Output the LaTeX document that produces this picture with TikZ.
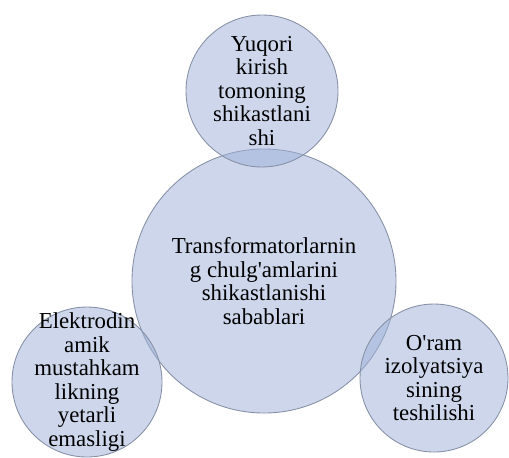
\documentclass[tikz,border=0pt]{standalone}
\usepackage{fontspec}
\setmainfont{Liberation Serif}
\usetikzlibrary{positioning}
\definecolor{cause fill}{RGB}{159,177,217}
\definecolor{cause line}{RGB}{135,145,165}
\tikzset{
    % Circles
    cause circle/.style={circle,draw=cause line,line width=0.5pt,fill=cause fill,fill opacity=0.52,draw opacity=1,inner sep=0pt,minimum size=#1},
    cause circle/.default=150,
    % Texts
    cause text/.style={align=center,inner sep=0pt,text=black,font=\fontsize{13}{13.4}\selectfont}
}
\newcommand{\apos}{\textquotesingle}

\begin{document}
\begin{tikzpicture}[x=0.02cm,y=-0.02cm]
    \useasboundingbox (0,0) rectangle (509,457);
    \node[cause circle=264*0.02cm] (main) at (264,281) {};
    \node[cause circle=152*0.02cm] (upper) at (262,91) {};
    \node[cause circle=150*0.02cm] (left) at (87,382) {};
    \node[cause circle=148*0.02cm] (right) at (434,378) {};
    \node[cause text] (main text) at (main) {Transformatorlarnin\\g chulg\apos{}amlarini\\shikastlanishi\\sabablari};
    \node[cause text] (upper text) at (upper) {Yuqori\\kirish\\tomoning\\shikastlani\\shi};
    \node[cause text] (left text) at (left) {Elektrodin\\amik\\mustahkam\\likning\\yetarli\\emasligi};
    \node[cause text] (right text) at (right) {O\apos{}ram\\izolyatsiya\\sining\\teshilishi};
\end{tikzpicture}
\end{document}
